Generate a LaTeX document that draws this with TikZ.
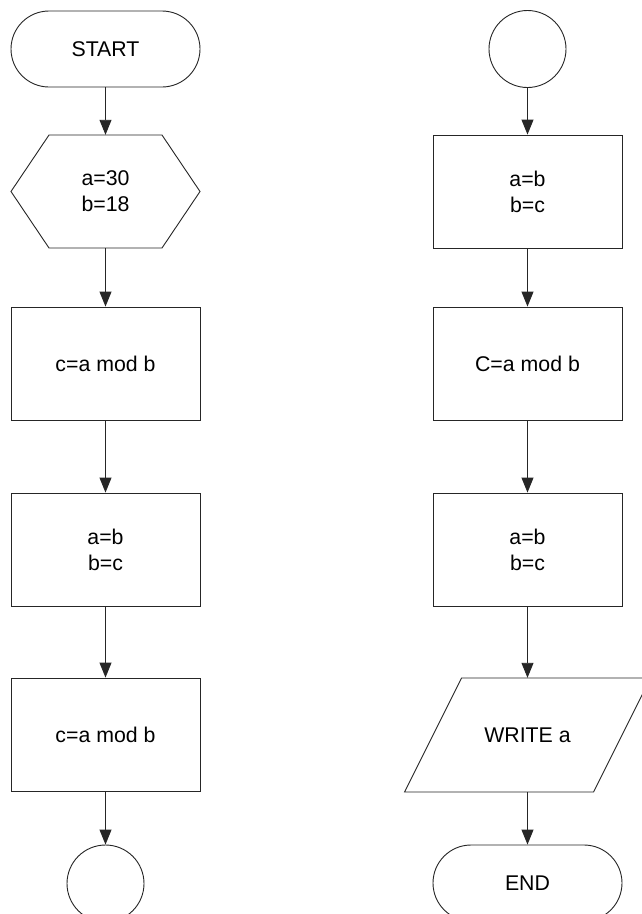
\documentclass[tikz,border=0pt]{standalone}
\usepackage{fontspec}
\setmainfont{Liberation Sans}
\usetikzlibrary{arrows.meta}
\begin{document}
\begin{tikzpicture}[x=1pt,y=-1pt,
  lw/.style={line width=0.9pt, draw=black!85},
  txt/.style={align=center, font=\fontsize{21.3}{26}\selectfont, inner sep=0pt},
  box/.style={lw, txt, minimum width=189pt, minimum height=113pt},
  term/.style={lw, txt, minimum width=189pt, minimum height=76pt, rounded corners=38pt},
  conn/.style={lw, circle, minimum size=77pt, inner sep=0pt},
  ghost/.style={txt, minimum width=189pt, minimum height=113pt},
  arr/.style={lw, -{Triangle[length=15pt,width=12pt]}}]
\useasboundingbox (0,0) rectangle (642,914);
\clip (0,0) rectangle (642,914);
\fill[white] (0,0) rectangle (642,914);
% left column
\node[term] (start) at (105.5,49) {START};
\node[ghost] (hex) at (105.5,191.5) {a=30\\b=18};
\draw[lw] (49,135) -- (162,135) -- (200,191.5) -- (162,248) -- (49,248) -- (11,191.5) -- cycle;
\node[box] (c1) at (105.5,363.5) {c=a mod b};
\node[box] (ab1) at (105.5,549.5) {a=b\\b=c};
\node[box] (c2) at (105.5,734.5) {c=a mod b};
\node[conn] (k1) at (105.5,883.5) {};
% right column
\node[conn] (k2) at (527.5,49) {};
\node[box] (ab2) at (527.5,191.5) {a=b\\b=c};
\node[box] (c3) at (527.5,363.5) {C=a mod b};
\node[box] (ab3) at (527.5,549.5) {a=b\\b=c};
\node[ghost, minimum width=246pt, minimum height=114pt] (wr) at (527.5,735) {WRITE a};
\draw[lw] (461.5,678) -- (650.5,678) -- (593.5,792) -- (404.5,792) -- cycle;
\node[term] (end) at (527.5,883) {END};
% connectors
\draw[arr] (start) -- (hex);
\draw[arr] (hex) -- (c1);
\draw[arr] (c1) -- (ab1);
\draw[arr] (ab1) -- (c2);
\draw[arr] (c2) -- (k1);
\draw[arr] (k2) -- (ab2);
\draw[arr] (ab2) -- (c3);
\draw[arr] (c3) -- (ab3);
\draw[arr] (ab3) -- (wr);
\draw[arr] (wr) -- (end);
\end{tikzpicture}
\end{document}
